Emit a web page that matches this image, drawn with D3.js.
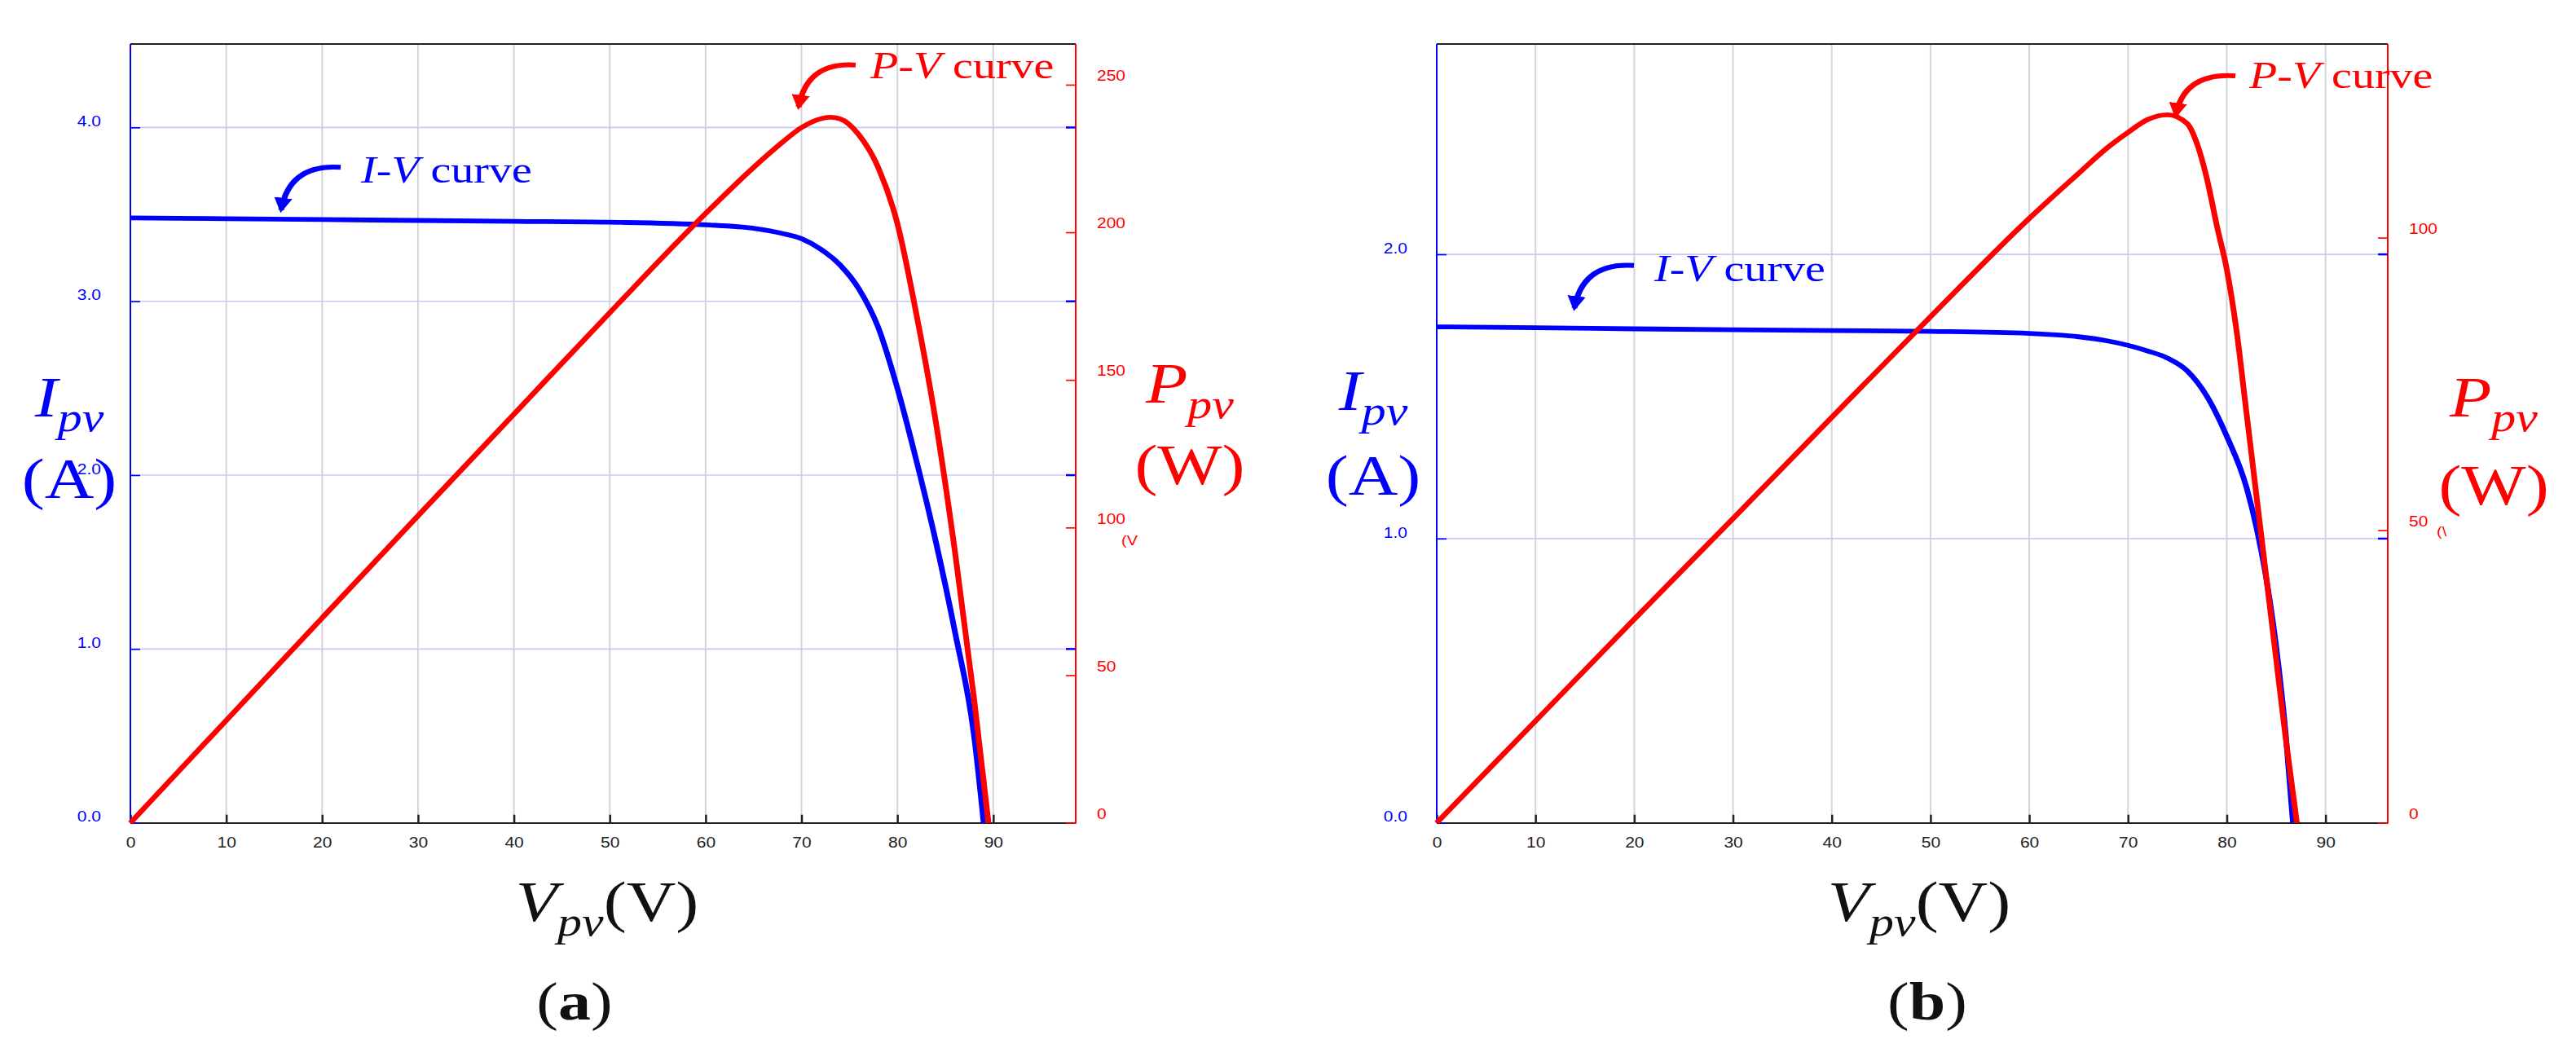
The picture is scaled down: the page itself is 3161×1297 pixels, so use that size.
<!DOCTYPE html>
<html><head><meta charset="utf-8">
<script src="https://cdn.jsdelivr.net/npm/d3@7"></script>
<style>body{margin:0;background:#fff}</style>
</head><body>
<svg id="fig" width="3161" height="1297"></svg>
<script>
// Panel (a) data
const voltA = [0, 10, 20, 30, 40, 50, 60, 65, 68, 70, 72, 74, 76, 78, 80, 82, 84, 86, 88, 89.0];
const currA = [3.48, 3.475, 3.47, 3.465, 3.46, 3.455, 3.44, 3.42, 3.39, 3.36, 3.30, 3.21, 3.07, 2.85, 2.50, 2.08, 1.62, 1.10, 0.50, 0];
const pvVoltA = [0, 10, 20, 30, 40, 50, 60, 65, 68, 70, 72, 73, 74, 76, 78, 80, 82, 84, 86, 88, 89.5];
const powA = [0, 34.7, 69.4, 104, 138.4, 172.8, 206.4, 222, 230.5, 235.5, 238.5, 239, 238.5, 233, 222, 203, 172, 136, 92, 42, 0];
// Panel (b)
const voltB = [0, 10, 20, 30, 40, 50, 60, 65, 68, 70, 72, 74, 76, 78, 80, 82, 83, 84, 85, 86, 86.7];
const currB = [1.745, 1.742, 1.738, 1.735, 1.732, 1.729, 1.722, 1.71, 1.695, 1.68, 1.66, 1.635, 1.59, 1.50, 1.36, 1.18, 1.04, 0.86, 0.62, 0.30, 0];
const pvVoltB = [0, 10, 20, 30, 40, 50, 60, 65, 68, 70, 72, 74, 76, 77, 78, 79, 80, 81, 82, 83, 84, 85, 86, 87.1];
const powB = [0, 17.4, 34.8, 52, 69.3, 86.5, 103.3, 111, 115.5, 118, 120.2, 121, 119.5, 116, 110, 102, 94.6, 84, 70, 56, 42, 28, 14, 0];

const xTicks = [0, 10, 20, 30, 40, 50, 60, 70, 80, 90];

const panels = [
  {x0: 160, x1: 1320, xMax: 98.6, iMax: 4.48, iTicks: [0, 1, 2, 3, 4], pMax: 263.8, pTicks: [0, 50, 100, 150, 200, 250],
   V: voltA, I: currA, PV: pvVoltA, P: powA, tag: "a", stray: "(V",
   iv: {tx: 443, ty: 270, ax: 418, ay: 247, bx: 345, by: 310},
   pv: {tx: 1068, ty: 115, ax: 1050, ay: 96, bx: 980, by: 158},
   ylab: [85, 615, 735], plab: [1460, 595, 715], xlab: 745, cap: 705},
  {x0: 1763, x1: 2930, xMax: 96.3, iMax: 2.74, iTicks: [0, 1, 2], pMax: 133.1, pTicks: [0, 50, 100],
   V: voltB, I: currB, PV: pvVoltB, P: powB, tag: "b", stray: "(\\",
   iv: {tx: 2030, ty: 415, ax: 2005, ay: 392, bx: 1932, by: 455},
   pv: {tx: 2760, ty: 130, ax: 2743, ay: 112, bx: 2670, by: 170},
   ylab: [1685, 605, 730], plab: [3060, 615, 745], xlab: 2355, cap: 2365}
];

const svg = d3.select("#fig");
const root = svg.append("g").attr("transform", "scale(1.0,0.831)");
const yTop = 65, yBot = 1215;
const defs = svg.append("defs");
["blue", "red"].forEach(c => {
  defs.append("marker").attr("id", "arr-" + c).attr("viewBox", "0 0 10 10")
    .attr("refX", 8).attr("refY", 5).attr("markerWidth", 3.2).attr("markerHeight", 3.2)
    .attr("orient", "auto").append("path").attr("d", "M0,0L10,5L0,10z").attr("fill", c);
});

panels.forEach(p => {
  const x = d3.scaleLinear().domain([0, p.xMax]).range([p.x0, p.x1]);
  const yI = d3.scaleLinear().domain([0, p.iMax]).range([yBot, yTop]);
  const yP = d3.scaleLinear().domain([0, p.pMax]).range([yBot, yTop]);
  const g = root.append("g");

  // grid
  g.selectAll(".vg").data(xTicks.slice(1)).join("line")
    .attr("x1", d => x(d)).attr("x2", d => x(d)).attr("y1", yTop).attr("y2", yBot)
    .attr("stroke", "#d4d4dc").attr("stroke-width", 2);
  g.selectAll(".hg").data(p.iTicks.slice(1)).join("line")
    .attr("x1", p.x0).attr("x2", p.x1).attr("y1", d => yI(d)).attr("y2", d => yI(d))
    .attr("stroke", "#c8c8f4").attr("stroke-width", 2);

  // x axis (ticks inward) + top border
  g.append("g").attr("transform", `translate(0,${yBot})`)
    .call(d3.axisBottom(x).tickValues(xTicks).tickSizeInner(-12).tickSizeOuter(0).tickPadding(22))
    .call(a => a.selectAll("line, path").attr("stroke", "#222").attr("stroke-width", 2.5))
    .call(a => a.selectAll("text").attr("font-family", "Liberation Sans, Arial").attr("font-size", 21).attr("fill", "#222"));
  g.append("line").attr("x1", p.x0).attr("x2", p.x1).attr("y1", yTop).attr("y2", yTop)
    .attr("stroke", "#222").attr("stroke-width", 2.5);

  // left current axis
  g.append("g").attr("transform", `translate(${p.x0},0)`)
    .call(d3.axisLeft(yI).tickValues(p.iTicks).tickSizeInner(-12).tickSizeOuter(0).tickPadding(36))
    .call(a => a.selectAll("line, path").attr("stroke", "#0000ff").attr("stroke-width", 2))
    .call(a => a.select(".domain").attr("d", `M0,${yBot}V${yTop}`))
    .call(a => a.selectAll("text").attr("font-family", "Liberation Sans, Arial").attr("font-size", 21)
      .attr("fill", "#0000ff").attr("dy", "-0.1em"));

  // right power axis
  g.append("g").attr("transform", `translate(${p.x1},0)`)
    .call(d3.axisRight(yP).tickValues(p.pTicks).tickSizeInner(-12).tickSizeOuter(0).tickPadding(26))
    .call(a => a.selectAll("line, path").attr("stroke", "#ff0000").attr("stroke-width", 2))
    .call(a => a.select(".domain").attr("d", `M0,${yBot}V${yTop}`))
    .call(a => a.selectAll("text").attr("font-family", "Liberation Sans, Arial").attr("font-size", 21)
      .attr("fill", "#ff0000").attr("dy", "-0.3em"));
  // blue ticks on the right at current ticks
  g.selectAll(".rb").data(p.iTicks.slice(1)).join("line")
    .attr("x1", p.x1 - 12).attr("x2", p.x1).attr("y1", d => yI(d)).attr("y2", d => yI(d))
    .attr("stroke", "#0000ff").attr("stroke-width", 3);
  g.append("text").attr("x", p.x1 + (p.tag === "a" ? 56 : 60)).attr("y", yP(p.tag === "a" ? 94 : 49))
    .attr("font-family", "Liberation Sans, Arial").attr("font-size", 20).attr("fill", "#ff0000").text(p.stray);

  // curves
  const lineI = d3.line().x((d, i) => x(p.V[i])).y(d => yI(d)).curve(d3.curveMonotoneX);
  const lineP = d3.line().x((d, i) => x(p.PV[i])).y(d => yP(d)).curve(d3.curveMonotoneX);
  g.append("path").attr("d", lineI(p.I)).attr("fill", "none").attr("stroke", "#0000ff").attr("stroke-width", 7);
  g.append("path").attr("d", lineP(p.P)).attr("fill", "none").attr("stroke", "#ff0000").attr("stroke-width", 7);

  // annotations
  [["iv", "I", "#0000ff", "blue"], ["pv", "P", "#ff0000", "red"]].forEach(([k, letter, col, mk]) => {
    const a = p[k];
    g.append("path").attr("d", `M${a.ax},${a.ay}Q${a.bx + 10},${a.ay - 5} ${a.bx},${a.by}`)
      .attr("fill", "none").attr("stroke", col).attr("stroke-width", 7).attr("marker-end", `url(#arr-${mk})`);
    const t = g.append("text").attr("x", a.tx).attr("y", a.ty).attr("font-family", "Liberation Serif, Times New Roman")
      .attr("font-size", 56).attr("fill", col);
    t.append("tspan").attr("font-style", "italic").text(`${letter}-V`);
    t.append("tspan").text(" curve");
  });

  // axis titles
  const serif = "Liberation Serif, Times New Roman";
  function sym(cx, y, main, sub, col) {
    const t = g.append("text").attr("x", cx).attr("y", y).attr("text-anchor", "middle")
      .attr("font-family", serif).attr("font-size", 84).attr("font-style", "italic").attr("fill", col);
    t.append("tspan").text(main);
    t.append("tspan").attr("font-size", 60).attr("dy", 22).text(sub);
    return t;
  }
  sym(p.ylab[0], p.ylab[1], "I", "pv", "#0000ff");
  g.append("text").attr("x", p.ylab[0]).attr("y", p.ylab[2]).attr("text-anchor", "middle")
    .attr("font-family", serif).attr("font-size", 84).attr("fill", "#0000ff").text("(A)");
  sym(p.plab[0], p.plab[1], "P", "pv", "#ff0000");
  g.append("text").attr("x", p.plab[0]).attr("y", p.plab[2]).attr("text-anchor", "middle")
    .attr("font-family", serif).attr("font-size", 84).attr("fill", "#ff0000").text("(W)");
  const xl = g.append("text").attr("x", p.xlab).attr("y", 1360).attr("text-anchor", "middle")
    .attr("font-family", serif).attr("font-size", 84).attr("fill", "#111");
  xl.append("tspan").attr("font-style", "italic").text("V");
  xl.append("tspan").attr("font-style", "italic").attr("font-size", 60).attr("dy", 22).text("pv");
  xl.append("tspan").attr("dy", -22).text("(V)");
  const cap = g.append("text").attr("x", p.cap).attr("y", 1505).attr("text-anchor", "middle")
    .attr("font-family", serif).attr("font-size", 80).attr("fill", "#111");
  cap.append("tspan").text("(");
  cap.append("tspan").attr("font-weight", "bold").text(p.tag);
  cap.append("tspan").text(")");
});
</script>
</body></html>
